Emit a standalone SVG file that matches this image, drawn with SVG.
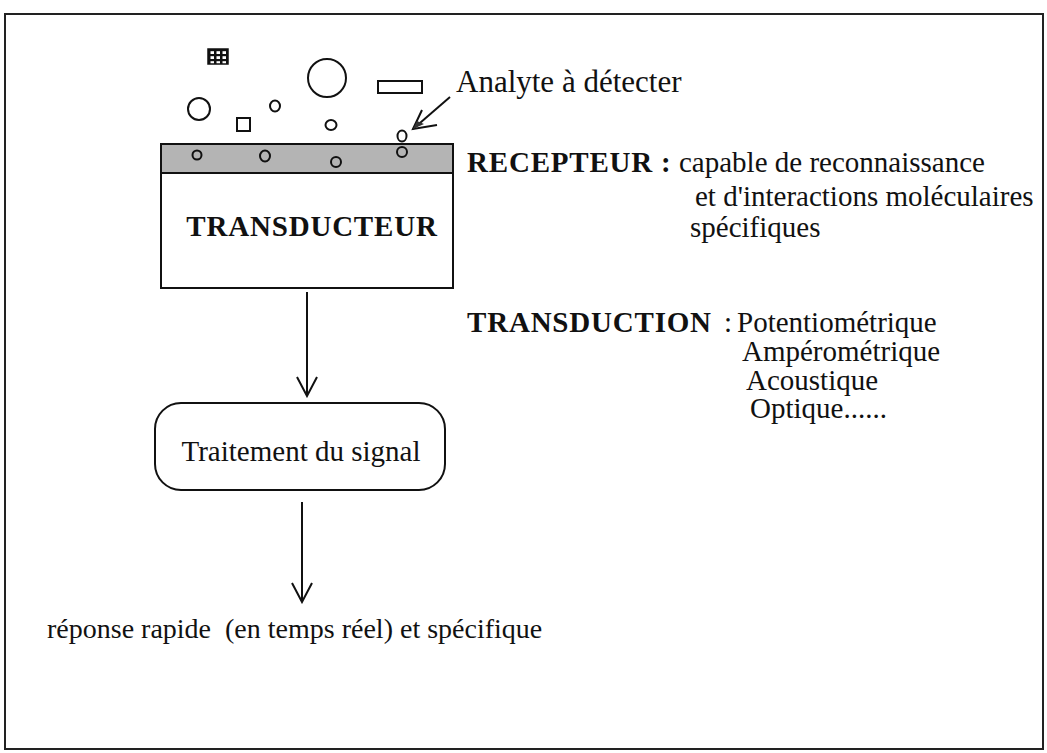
<svg xmlns="http://www.w3.org/2000/svg" width="1047" height="753" viewBox="0 0 1047 753">
<style>
.t{font-family:"Liberation Serif","Times New Roman",serif;font-size:29px;fill:#111}
.b{font-weight:bold;letter-spacing:0.8px}
.ln{fill:none;stroke:#111;stroke-width:2}
.mol{fill:none;stroke:#111;stroke-width:2}
</style>
<defs>
<marker id="v" viewBox="0 0 22 22" refX="20" refY="11" markerWidth="22" markerHeight="22" markerUnits="userSpaceOnUse" orient="auto">
<path d="M1,1 L20,11 L1,21" fill="none" stroke="#111" stroke-width="2"/>
</marker>
<pattern id="grid" width="6" height="5" patternUnits="userSpaceOnUse" x="209" y="50"><rect width="6" height="5" fill="#111"/><rect x="1.5" y="1.2" width="3.5" height="2.8" fill="#fff"/></pattern>
</defs>
<rect x="0" y="0" width="1047" height="753" fill="#fff"/>
<g id="frame"><rect x="5" y="14" width="1038" height="735" fill="none" stroke="#222" stroke-width="2"/></g>
<g id="analytes">
<rect x="208" y="49" width="20" height="15" fill="url(#grid)" stroke="#111" stroke-width="1.5"/>
<circle class="mol" cx="327" cy="78" r="19"/>
<rect class="mol" x="378" y="81" width="44" height="12"/>
<circle class="mol" cx="199" cy="109" r="11"/>
<rect class="mol" x="237" y="118" width="13" height="13"/>
<ellipse class="mol" cx="275" cy="106" rx="5" ry="5.5"/>
<ellipse class="mol" cx="331" cy="125" rx="5.5" ry="5"/>
<ellipse class="mol" cx="402" cy="136" rx="4.5" ry="5.5"/>
</g>
<g id="analyte-label">
<text class="t" x="456" y="92" style="font-size:31px">Analyte à détecter</text>
<path d="M450,97 L413,129" class="ln"/>
<path d="M422,110 L413,129 L437,125" fill="none" stroke="#111" stroke-width="2"/>
<path d="M417,121 L413,129 L424,124 Z" fill="#333"/>
</g>
<g id="transducteur">
<rect x="161" y="144" width="292" height="144" fill="#fff" stroke="#111" stroke-width="2"/>
<rect x="162" y="145" width="290" height="28" fill="#b4b4b4"/>
<line x1="161" y1="173" x2="453" y2="173" stroke="#111" stroke-width="2"/>
<ellipse class="mol" cx="197" cy="155" rx="4.5" ry="4.5" fill="#ddd"/>
<ellipse class="mol" cx="265" cy="156" rx="5" ry="5.5" fill="#ddd"/>
<ellipse class="mol" cx="336" cy="162" rx="5" ry="5" fill="#ddd"/>
<ellipse class="mol" cx="402" cy="152" rx="5" ry="5" fill="#ddd"/>
<text class="t b" x="312" y="236" text-anchor="middle">TRANSDUCTEUR</text>
</g>
<g id="recepteur">
<text class="t b" x="467" y="172">RECEPTEUR :</text>
<text class="t" x="679" y="172">capable de reconnaissance</text>
<text class="t" x="695" y="206">et d'interactions moléculaires</text>
<text class="t" x="690" y="237">spécifiques</text>
</g>
<g id="transduction">
<text class="t b" x="467" y="332">TRANSDUCTION</text>
<text class="t" x="724" y="332">:</text>
<text class="t" x="737" y="332">Potentiométrique</text>
<text class="t" x="742" y="361">Ampérométrique</text>
<text class="t" x="746" y="390">Acoustique</text>
<text class="t" x="750" y="418">Optique......</text>
</g>
<g id="traitement">
<rect x="155" y="403" width="290" height="87" rx="26" fill="#fff" stroke="#111" stroke-width="2"/>
<text class="t" x="301" y="461" text-anchor="middle">Traitement du signal</text>
</g>
<g id="reponse">
<text class="t" x="47" y="638" style="font-size:28px" xml:space="preserve">réponse rapide  (en temps réel) et spécifique</text>
</g>
<g id="connectors">
<line x1="307" y1="292" x2="307" y2="396" class="ln" marker-end="url(#v)"/>
<line x1="302" y1="502" x2="302" y2="602" class="ln" marker-end="url(#v)"/>
</g>
</svg>
